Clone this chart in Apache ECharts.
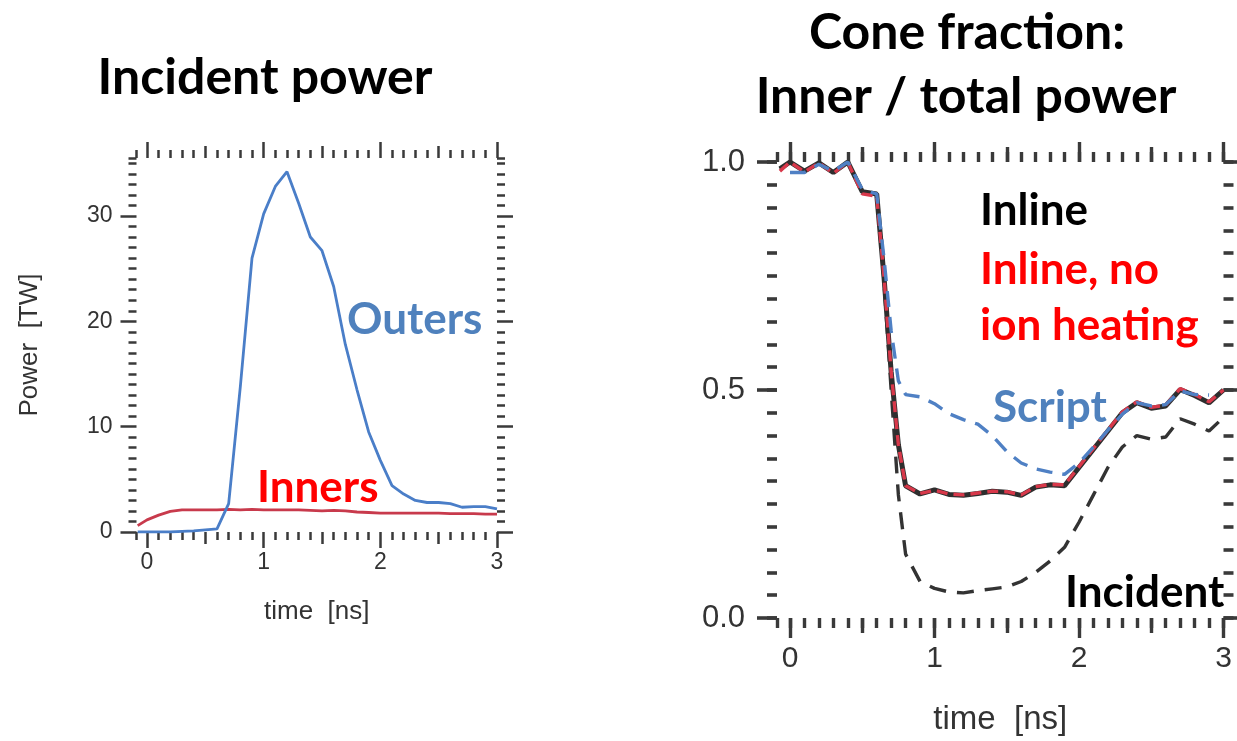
<!DOCTYPE html>
<html><head><meta charset="utf-8">
<script src="https://cdn.jsdelivr.net/npm/echarts@6/dist/echarts.min.js"></script>
<style>html,body{margin:0;padding:0;background:#fff}#c{width:1237px;height:741px}</style>
</head><body><div id="c"></div>
<script>
// ---------- data (left: incident power) ----------
const timeLeft = [-0.08, 0, 0.1, 0.2, 0.3, 0.4, 0.5, 0.6, 0.7, 0.8, 0.9, 1.0, 1.1, 1.2, 1.3, 1.4, 1.5, 1.6, 1.7, 1.8, 1.9, 2.0, 2.1, 2.2, 2.3, 2.4, 2.5, 2.6, 2.7, 2.8, 2.9, 3.0];
const outersTW = [0, 0, 0, 0, 0.05, 0.1, 0.2, 0.3, 2.7, 13.8, 26.0, 30.2, 32.8, 34.2, 31.2, 28.0, 26.7, 23.3, 17.8, 13.5, 9.5, 6.8, 4.4, 3.6, 3.0, 2.8, 2.8, 2.7, 2.35, 2.4, 2.4, 2.2];
const innersTW = [0.6, 1.15, 1.6, 1.95, 2.1, 2.1, 2.1, 2.1, 2.15, 2.1, 2.15, 2.1, 2.1, 2.1, 2.1, 2.05, 2.0, 2.05, 2.0, 1.9, 1.85, 1.8, 1.8, 1.8, 1.8, 1.8, 1.8, 1.75, 1.75, 1.75, 1.7, 1.7];
// ---------- data (right: cone fraction) ----------
const timeRight = [-0.07, 0, 0.1, 0.2, 0.3, 0.4, 0.5, 0.6, 0.65, 0.7, 0.75, 0.8, 0.9, 1.0, 1.1, 1.2, 1.3, 1.4, 1.5, 1.6, 1.7, 1.8, 1.9, 2.0, 2.1, 2.2, 2.3, 2.4, 2.5, 2.6, 2.7, 2.8, 2.9, 3.0];
const inlineFrac = [0.985, 1.0, 0.98, 0.998, 0.977, 1.0, 0.935, 0.93, 0.75, 0.54, 0.38, 0.29, 0.272, 0.281, 0.271, 0.269, 0.273, 0.278, 0.276, 0.269, 0.287, 0.292, 0.29, 0.33, 0.37, 0.41, 0.45, 0.472, 0.46, 0.465, 0.501, 0.488, 0.472, 0.5];
const inlineNoIonFrac = [0.98, 1.0, 0.978, 0.998, 0.975, 1.0, 0.93, 0.925, 0.75, 0.54, 0.38, 0.29, 0.273, 0.28, 0.272, 0.27, 0.274, 0.278, 0.277, 0.27, 0.288, 0.293, 0.292, 0.332, 0.372, 0.412, 0.452, 0.474, 0.462, 0.467, 0.503, 0.49, 0.474, 0.5];
const scriptFrac = [null, 0.977, 0.977, 0.995, 0.98, 1.0, 0.94, 0.93, 0.79, 0.63, 0.52, 0.49, 0.485, 0.47, 0.448, 0.435, 0.425, 0.40, 0.365, 0.34, 0.327, 0.32, 0.315, 0.34, 0.375, 0.412, 0.447, 0.472, 0.465, 0.468, 0.498, 0.49, 0.489, null];
const incidentFrac = [0.985, 1.0, 0.98, 0.998, 0.977, 1.0, 0.935, 0.93, 0.74, 0.5, 0.27, 0.14, 0.08, 0.065, 0.057, 0.055, 0.06, 0.064, 0.068, 0.08, 0.1, 0.125, 0.155, 0.21, 0.27, 0.33, 0.375, 0.4, 0.392, 0.397, 0.437, 0.425, 0.41, 0.44];
// ---------- tick labels ----------
const xMajorTicks = [0, 1, 2, 3];
const xMediumTicks = [0.5, 1.5, 2.5];
const leftYMajorTicks = [0, 10, 20, 30];
const rightYMajorTicks = [0, 0.5, 1.0];

const TICK = '#3a3a3a';
const LABEL = '#333333';
const SANS = 'Liberation Sans';
const BOLD = 'Lato';

function stepList(from, to, step) {
  const out = [];
  const n = Math.round((to - from) / step);
  for (let i = 0; i <= n; i++) out.push(+(from + i * step).toFixed(3));
  return out;
}

function tickAxis(grid, min, max, pos, vals, len, w) {
  return {
    type: 'value', gridIndex: grid, min: min, max: max, position: pos,
    axisLine: { show: false, onZero: false }, splitLine: { show: false },
    axisLabel: { show: false },
    axisTick: { show: true, inside: false, length: len, customValues: vals, lineStyle: { color: TICK, width: w } }
  };
}

function xAxesFor(grid, min, max, c) {
  const minor = [min].concat(stepList(0, 3, 0.1));
  const main = tickAxis(grid, min, max, 'bottom', xMajorTicks, c.major, c.w);
  main.axisLabel = { show: true, customValues: xMajorTicks, formatter: v => String(Math.round(v)),
    fontFamily: SANS, fontSize: c.fs, color: LABEL, margin: c.lm };
  main.name = 'time  [ns]';
  main.nameLocation = 'middle';
  main.nameGap = c.ng;
  main.nameTextStyle = { fontFamily: SANS, fontSize: c.nfs, color: LABEL, verticalAlign: 'top' };
  return [main,
    tickAxis(grid, min, max, 'top', xMajorTicks, c.major, c.w),
    tickAxis(grid, min, max, 'bottom', xMediumTicks, c.med, c.w),
    tickAxis(grid, min, max, 'top', xMediumTicks, c.med, c.w),
    tickAxis(grid, min, max, 'bottom', minor, c.minor, c.w),
    tickAxis(grid, min, max, 'top', minor, c.minor, c.w)];
}

function yAxesFor(grid, min, max, majors, minors, c) {
  const main = tickAxis(grid, min, max, 'left', majors, c.major, c.w);
  main.axisLabel = { show: true, customValues: majors, formatter: c.fmt,
    fontFamily: SANS, fontSize: c.fs, color: LABEL, margin: c.lm };
  if (c.name) {
    main.name = c.name; main.nameLocation = 'middle'; main.nameGap = c.ng; main.nameRotate = 90;
    main.nameTextStyle = { fontFamily: SANS, fontSize: c.nfs, color: LABEL };
  }
  return [main,
    tickAxis(grid, min, max, 'right', majors, c.major, c.w),
    tickAxis(grid, min, max, 'left', minors, c.minor, c.w),
    tickAxis(grid, min, max, 'right', minors, c.minor, c.w)];
}

const leftX = xAxesFor(0, -0.09, 3, { w: 2.5, major: 16, med: 12, minor: 8, fs: 23, lm: 19, ng: 67, nfs: 26 });
const rightX = xAxesFor(1, -0.09, 3, { w: 3.4, major: 20, med: 15, minor: 10, fs: 30, lm: 26, ng: 85, nfs: 33 });
const leftY = yAxesFor(0, 0, 35.5, leftYMajorTicks, stepList(0, 35, 1).concat([35.5]),
  { w: 2.5, major: 16, minor: 8, fs: 23, lm: 24, fmt: v => String(Math.round(v)), name: 'Power  [TW]', ng: 94, nfs: 26 });
const rightY = yAxesFor(1, 0, 1.0, rightYMajorTicks, stepList(0, 1, 0.05),
  { w: 3.6, major: 20, minor: 10, fs: 31, lm: 32, fmt: v => v.toFixed(1) });

const xAxis = leftX.concat(rightX);   // left: 0..5, right: 6..11
const yAxis = leftY.concat(rightY);   // left: 0..3, right: 4..7

const pairs = (ts, vs) => ts.map((t, i) => [t, vs[i]]);
const lineBase = { type: 'line', showSymbol: false, symbol: 'none', silent: true, animation: false, connectNulls: false };

const series = [
  Object.assign({}, lineBase, { name: 'Outers', xAxisIndex: 0, yAxisIndex: 0, data: pairs(timeLeft, outersTW),
    lineStyle: { color: '#4a7ec8', width: 2.8 }, z: 3 }),
  Object.assign({}, lineBase, { name: 'Inners', xAxisIndex: 0, yAxisIndex: 0, data: pairs(timeLeft, innersTW),
    lineStyle: { color: '#c83a4c', width: 2.8 }, z: 2 }),
  Object.assign({}, lineBase, { name: 'Incident', xAxisIndex: 6, yAxisIndex: 4, data: pairs(timeRight, incidentFrac),
    lineStyle: { color: '#333333', width: 3.4, type: [17, 11] }, z: 2 }),
  Object.assign({}, lineBase, { name: 'Inline', xAxisIndex: 6, yAxisIndex: 4, data: pairs(timeRight, inlineFrac),
    lineStyle: { color: '#2e2e2e', width: 5 }, z: 3 }),
  Object.assign({}, lineBase, { name: 'Inline, no ion heating', xAxisIndex: 6, yAxisIndex: 4, data: pairs(timeRight, inlineNoIonFrac),
    lineStyle: { color: '#d8384a', width: 3.4, type: [11, 6] }, z: 4 }),
  Object.assign({}, lineBase, { name: 'Script', xAxisIndex: 6, yAxisIndex: 4, data: pairs(timeRight, scriptFrac),
    lineStyle: { color: '#4f80c4', width: 3.4, type: [16, 10] }, z: 5 })
];

function label(text, x, y, color, size, align) {
  return { type: 'text', x: x, y: y, z: 100, silent: true,
    style: { text: text, fill: color, font: 'bold ' + size + 'px ' + BOLD, align: align || 'left', verticalAlign: 'middle' } };
}

const graphic = [
  label('Incident power', 265, 78, '#000', 50, 'center'),
  label('Cone fraction:', 967, 33, '#000', 50, 'center'),
  label('Inner / total power', 966, 97, '#000', 50, 'center'),
  label('Outers', 347, 320, '#4f81bd', 44),
  label('Inners', 257, 488, '#ff0000', 44),
  label('Inline', 980, 211, '#000', 44),
  label('Inline, no', 980, 270, '#ff0000', 44),
  label('ion heating', 980, 326, '#ff0000', 44),
  label('Script', 993, 408, '#4f81bd', 44),
  label('Incident', 1065, 593, '#000', 44)
];

const chart = echarts.init(document.getElementById('c'), null, { renderer: 'canvas' });
chart.setOption({
  backgroundColor: '#ffffff',
  animation: false,
  grid: [
    { left: 136.5, right: 740, top: 158, bottom: 209, containLabel: false },
    { left: 777, right: 13.5, top: 162, bottom: 118, containLabel: false }
  ],
  xAxis: xAxis,
  yAxis: yAxis,
  series: series,
  graphic: graphic
});
</script>
</body></html>
